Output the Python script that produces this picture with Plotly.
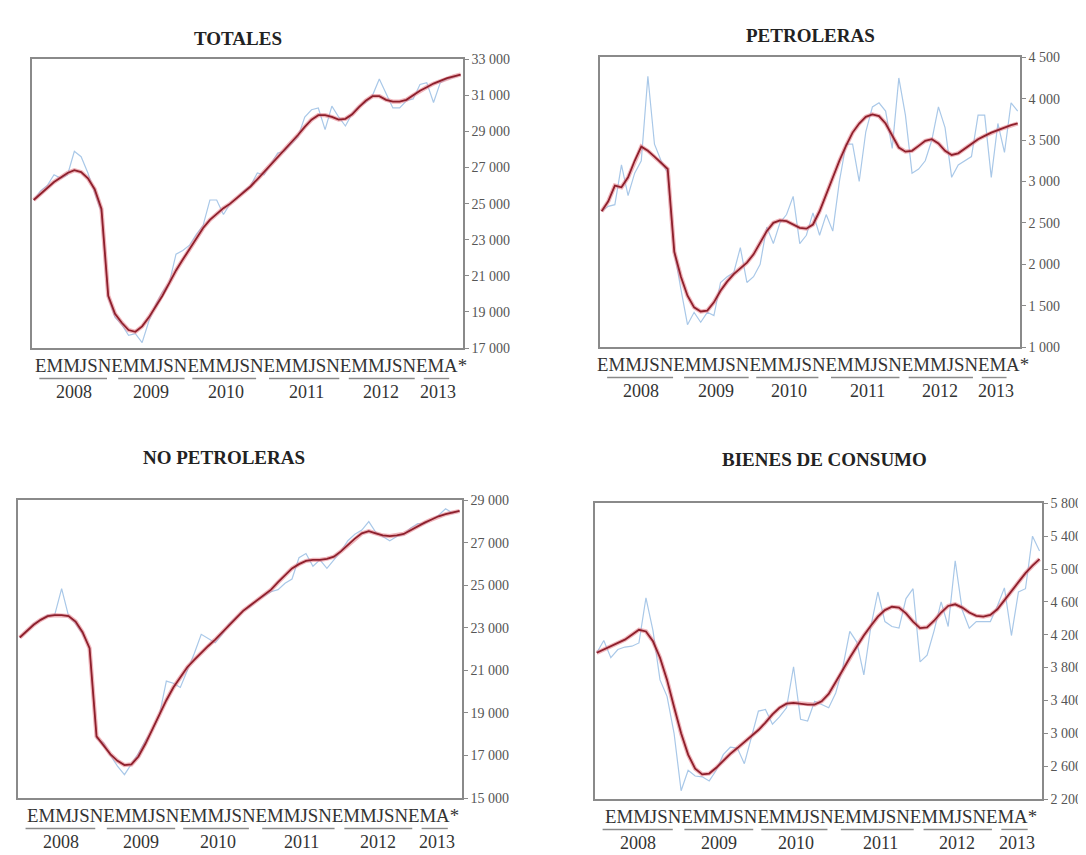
import plotly.graph_objects as go

# ---------------- data (Jan 2008 .. Apr 2013, monthly) ----------------
months = list(range(64))
month_letters = "EMMJSNEMMJSNEMMJSNEMMJSNEMMJSNEMA*"
years = ["2008", "2009", "2010", "2011", "2012", "2013"]

totales_orig = [25200, 25700, 26000, 26600, 26400, 26600, 27900, 27600, 26700, 25600,
                24500, 19800, 18700, 18300, 17700, 17800, 17300, 18500, 19400, 20100,
                20600, 22200, 22400, 22700, 23300, 23800, 25200, 25200, 24400, 25000,
                25300, 25700, 26000, 26700, 26600, 27200, 27800, 27900, 28300, 28700,
                29800, 30200, 30300, 29100, 30400, 29800, 29300, 30000, 30400, 30600,
                31000, 31900, 31100, 30300, 30300, 30700, 30800, 31600, 31700, 30600,
                31700, 31900, 32000, 32150]
totales_trend = [25200, 25550, 25900, 26200, 26450, 26700, 26850, 26750, 26400, 25800,
                 24700, 19900, 18900, 18400, 18000, 17900, 18200, 18700, 19300, 19900,
                 20600, 21300, 21900, 22500, 23100, 23650, 24100, 24450, 24750, 25000,
                 25300, 25600, 25950, 26350, 26750, 27150, 27550, 27950, 28350, 28800,
                 29250, 29650, 29900, 29900, 29800, 29650, 29700, 29950, 30350, 30700,
                 30950, 30950, 30750, 30650, 30650, 30750, 31000, 31250, 31450, 31650,
                 31800, 31950, 32050, 32150]

petro_orig = [2640, 2700, 2720, 3200, 2830, 3100, 3250, 4270, 3450, 3250,
              3100, 2150, 1700, 1270, 1420, 1300, 1420, 1380, 1780, 1850,
              1900, 2200, 1780, 1850, 2000, 2450, 2250, 2500, 2600, 2820,
              2250, 2350, 2620, 2350, 2600, 2400, 3000, 3450, 3450, 3000,
              3600, 3900, 3950, 3850, 3400, 4250, 3800, 3100, 3150, 3250,
              3500, 3900, 3650, 3050, 3200, 3250, 3300, 3800, 3800, 3050,
              3700, 3350, 3950, 3850]
petro_trend = [2640, 2760, 2950, 2930, 3050, 3250, 3420, 3370, 3300, 3230,
               3150, 2150, 1850, 1620, 1480, 1430, 1440, 1540, 1680, 1790,
               1880, 1950, 2020, 2120, 2260, 2400, 2500, 2530, 2520, 2480,
               2440, 2430, 2480, 2640, 2850, 3050, 3250, 3430, 3590, 3700,
               3780, 3810, 3790, 3700, 3550, 3410, 3360, 3370, 3430, 3490,
               3510, 3460, 3370, 3320, 3340, 3400, 3460, 3510, 3550, 3590,
               3620, 3650, 3680, 3700]

nopetro_orig = [22550, 22900, 23200, 23400, 23600, 23600, 24850, 23550, 23200, 22700,
                22100, 17800, 17600, 17000, 16500, 16100, 16600, 17100, 17700, 18200,
                18900, 20500, 20400, 20200, 21000, 21800, 22700, 22500, 22300, 22700,
                23200, 23500, 23800, 24000, 24300, 24500, 24700, 24800, 25100, 25300,
                26300, 26500, 25900, 26200, 25800, 26200, 26600, 27100, 27400, 27600,
                28000, 27500, 27300, 27100, 27300, 27400, 27700, 27900, 27900, 28100,
                28300, 28600, 28400, 28500]
nopetro_trend = [22550, 22850, 23150, 23380, 23550, 23600, 23600, 23560, 23300, 22800,
                 22050, 17900, 17500, 17050, 16750, 16550, 16580, 16950, 17550, 18250,
                 18950, 19600, 20200, 20700, 21150, 21500, 21850, 22150, 22450, 22800,
                 23150, 23500, 23800, 24050, 24300, 24550, 24800, 25150, 25500, 25800,
                 26000, 26150, 26200, 26200, 26250, 26350, 26600, 26900, 27200, 27450,
                 27550, 27450, 27350, 27320, 27350, 27420, 27600, 27800, 27950, 28100,
                 28250, 28350, 28430, 28500]

consumo_orig = [3980, 4130, 3920, 4020, 4050, 4060, 4100, 4650, 4250, 3650,
                3450, 3000, 2300, 2550, 2480, 2470, 2420, 2550, 2740, 2830,
                2820, 2630, 2950, 3270, 3290, 3110, 3200, 3310, 3810, 3170,
                3150, 3390, 3350, 3310, 3490, 3800, 4240, 4110, 3710, 4300,
                4720, 4360, 4300, 4280, 4640, 4760, 3870, 3950, 4250, 4600,
                4300, 5100, 4500, 4280, 4360, 4360, 4360, 4550, 4770, 4190,
                4720, 4760, 5400, 5220]
consumo_trend = [3980, 4020, 4060, 4100, 4140, 4200, 4260, 4240, 4120, 3920,
                 3650, 3320, 3000, 2740, 2570, 2500, 2510, 2580, 2670, 2750,
                 2820, 2890, 2960, 3040, 3130, 3230, 3310, 3360, 3370, 3360,
                 3350, 3350, 3390, 3480, 3620, 3770, 3920, 4060, 4190, 4310,
                 4420, 4500, 4540, 4530, 4460, 4360, 4280, 4290, 4370, 4470,
                 4550, 4570, 4530, 4470, 4430, 4420, 4440, 4510, 4620, 4740,
                 4850, 4950, 5040, 5120]

titles = ["TOTALES", "PETROLERAS", "NO PETROLERAS", "BIENES DE CONSUMO"]
y_ticks = [
    [17000, 19000, 21000, 23000, 25000, 27000, 29000, 31000, 33000],
    [1000, 1500, 2000, 2500, 3000, 3500, 4000, 4500],
    [15000, 17000, 19000, 21000, 23000, 25000, 27000, 29000],
    [2200, 2600, 3000, 3400, 3800, 4200, 4600, 5000, 5400, 5800],
]
series = [(totales_orig, totales_trend), (petro_orig, petro_trend),
          (nopetro_orig, nopetro_trend), (consumo_orig, consumo_trend)]

# ---------------- layout (pixel boxes) ----------------
W, H = 1086, 855
boxes = [(24, 455, 45, 339), (592, 1012, 43, 338), (10, 454, 494, 797), (587, 1034, 497, 798)]
title_pos = [(230, 24), (802, 21), (216, 450), (816, 452)]
year_frac = [0.097, 0.277, 0.450, 0.638, 0.810, 0.943]
uline_frac = [(0.017, 0.174), (0.200, 0.354), (0.372, 0.520), (0.550, 0.713), (0.735, 0.888), (0.909, 0.968)]

SERIF = "Liberation Serif, Times New Roman, serif"
BLUE = "#a9c8e8"
PINK = "rgba(226,120,132,0.55)"
RED = "#8e1f2b"
FRAME = "#8a8a8a"


def px(x):
    return x / W


def py(y):
    return 1 - y / H


def fmt(v):
    return f"{v:,}".replace(",", " ")


fig = go.Figure()
annotations = []
shapes = []

for i in range(4):
    orig, trend = series[i]
    sfx = "" if i == 0 else str(i + 1)
    xa, ya = "x" + sfx, "y" + sfx
    fig.add_trace(go.Scatter(x=months, y=orig, mode="lines", xaxis=xa, yaxis=ya,
                             line=dict(color=BLUE, width=1.2), showlegend=False, hoverinfo="skip"))
    fig.add_trace(go.Scatter(x=months, y=trend, mode="lines", xaxis=xa, yaxis=ya,
                             line=dict(color=PINK, width=4.2), showlegend=False, hoverinfo="skip"))
    fig.add_trace(go.Scatter(x=months, y=trend, mode="lines", xaxis=xa, yaxis=ya,
                             line=dict(color=RED, width=1.8), showlegend=False, hoverinfo="skip"))

    x0, x1, y0, y1 = boxes[i]
    ticks = y_ticks[i]
    fig.layout["xaxis" + sfx] = dict(
        domain=[px(x0), px(x1)], anchor=ya, range=[-0.25, 63.35],
        showgrid=False, zeroline=False, showticklabels=False, ticks="",
        showline=True, linecolor=FRAME, linewidth=1.5, mirror=True, fixedrange=True)
    fig.layout["yaxis" + sfx] = dict(
        domain=[py(y1), py(y0)], anchor=xa, side="right", range=[ticks[0], ticks[-1]],
        tickvals=ticks, ticktext=[fmt(v) for v in ticks],
        showgrid=False, zeroline=False, ticks="outside", ticklen=4, tickcolor=FRAME,
        tickwidth=1.2,
        tickfont=dict(family=SERIF, size=14, color="#555555"),
        showline=True, linecolor=FRAME, linewidth=1.5, mirror=True, fixedrange=True)

    # title
    tx, ty = title_pos[i]
    annotations.append(dict(x=px(tx), y=py(ty), xref="paper", yref="paper", showarrow=False,
                            text="<b>" + titles[i] + "</b>", xanchor="center", yanchor="middle",
                            font=dict(family=SERIF, size=19, color="#222222")))
    # month letters
    annotations.append(dict(x=px((x0 + x1) / 2 + 3), y=py(y1 + 18), xref="paper", yref="paper",
                            showarrow=False, text=month_letters, xanchor="center", yanchor="middle",
                            font=dict(family=SERIF, size=18.8, color="#333333")))
    bw = x1 - x0
    for k, yr in enumerate(years):
        annotations.append(dict(x=px(x0 + year_frac[k] * bw), y=py(y1 + 45), xref="paper", yref="paper",
                                showarrow=False, text=yr, xanchor="center", yanchor="middle",
                                font=dict(family=SERIF, size=18, color="#333333")))
        a, b = uline_frac[k]
        shapes.append(dict(type="line", xref="paper", yref="paper",
                           x0=px(x0 + a * bw), x1=px(x0 + b * bw), y0=py(y1 + 31), y1=py(y1 + 31),
                           line=dict(color="#8a8a8a", width=1.4)))

fig.update_layout(width=W, height=H, margin=dict(l=0, r=0, t=0, b=0),
                  paper_bgcolor="white", plot_bgcolor="white",
                  annotations=annotations, shapes=shapes, showlegend=False)

fig.write_html("out.html")
